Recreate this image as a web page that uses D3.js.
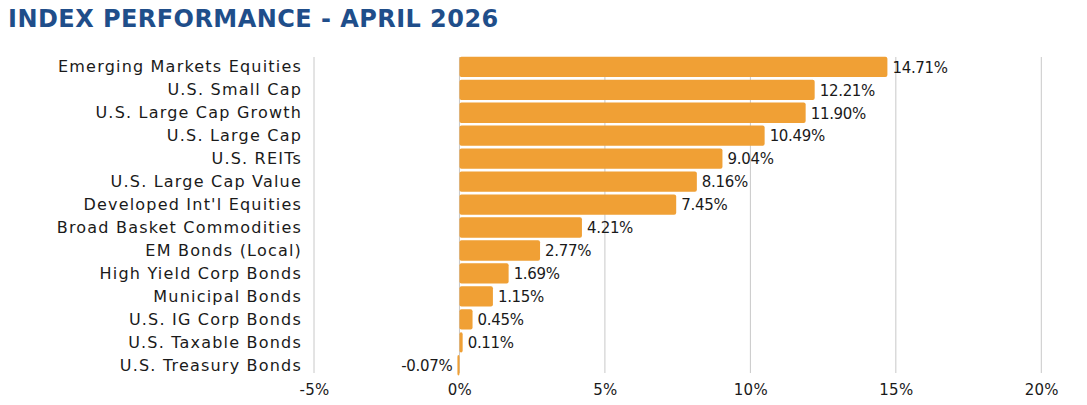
<!DOCTYPE html>
<html>
<head>
<meta charset="utf-8">
<script src="https://cdn.jsdelivr.net/npm/d3@7"></script>
<style>
  body { margin: 0; background: #fff; }
  text { font-family: "DejaVu Sans", sans-serif; }
</style>
</head>
<body>
<div id="chart"></div>
<script>
// Data
const categories = [
  "Emerging Markets Equities",
  "U.S. Small Cap",
  "U.S. Large Cap Growth",
  "U.S. Large Cap",
  "U.S. REITs",
  "U.S. Large Cap Value",
  "Developed Int'l Equities",
  "Broad Basket Commodities",
  "EM Bonds (Local)",
  "High Yield Corp Bonds",
  "Municipal Bonds",
  "U.S. IG Corp Bonds",
  "U.S. Taxable Bonds",
  "U.S. Treasury Bonds"
];
const returns = [14.71, 12.21, 11.90, 10.49, 9.04, 8.16, 7.45, 4.21, 2.77, 1.69, 1.15, 0.45, 0.11, -0.07];
const xTicks = [-5, 0, 5, 10, 15, 20];
const title = "INDEX PERFORMANCE - APRIL 2026";

const width = 1087, height = 405;
const ink = "#1a1a1a";

const svg = d3.select("#chart")
  .append("svg")
  .attr("width", width)
  .attr("height", height);

// Scales
const x = d3.scaleLinear().domain([-5, 20]).range([314, 1041.3]);
const y = d3.scaleBand()
  .domain(categories)
  .range([56.7, 375.4])
  .paddingInner(0.115)
  .paddingOuter(0);

// Title
svg.append("text")
  .attr("x", 8)
  .attr("y", 27)
  .attr("fill", "#1f4e8a")
  .style("font-size", "24px")
  .style("font-weight", "bold")
  .style("letter-spacing", "0.45px")
  .text(title);

// Gridlines
svg.append("g")
  .selectAll("line")
  .data(xTicks)
  .enter()
  .append("line")
  .attr("x1", (d) => x(d))
  .attr("x2", (d) => x(d))
  .attr("y1", 57)
  .attr("y2", 373)
  .attr("stroke", "#c8c8c8")
  .attr("stroke-width", 1);

// X axis labels
const xAxis = svg.append("g")
  .attr("transform", "translate(0,382)")
  .call(d3.axisBottom(x).tickValues(xTicks).tickFormat((d) => d + "%").tickSize(0).tickPadding(2));
xAxis.select(".domain").remove();
xAxis.selectAll("text")
  .attr("fill", ink)
  .style("font-size", "15px")
  .style("letter-spacing", "0.3px")
  .style("font-family", "'DejaVu Sans', sans-serif");

// Category labels
svg.append("g")
  .selectAll("text")
  .data(categories)
  .enter()
  .append("text")
  .attr("x", 302)
  .attr("y", (d) => y(d) + y.bandwidth() / 2)
  .attr("dy", "0.35em")
  .attr("text-anchor", "end")
  .attr("fill", ink)
  .style("font-size", "16px")
  .style("letter-spacing", "1.2px")
  .text((d) => d);

// Bars
svg.append("g")
  .selectAll("rect")
  .data(returns)
  .enter()
  .append("rect")
  .attr("x", (d) => x(Math.min(0, d)))
  .attr("y", (d, i) => y(categories[i]))
  .attr("width", (d) => Math.max(1.5, Math.abs(x(d) - x(0))))
  .attr("height", y.bandwidth())
  .attr("rx", 2)
  .attr("fill", "#f0a035");

// Value labels
svg.append("g")
  .selectAll("text")
  .data(returns)
  .enter()
  .append("text")
  .attr("x", (d) => (d < 0 ? x(d) - 5 : x(d) + 5))
  .attr("y", (d, i) => y(categories[i]) + y.bandwidth() / 2 + 0.5)
  .attr("dy", "0.35em")
  .attr("text-anchor", (d) => (d < 0 ? "end" : "start"))
  .attr("fill", ink)
  .style("font-size", "15px")
  .style("letter-spacing", "-0.3px")
  .text((d) => d.toFixed(2) + "%");
</script>
</body>
</html>
